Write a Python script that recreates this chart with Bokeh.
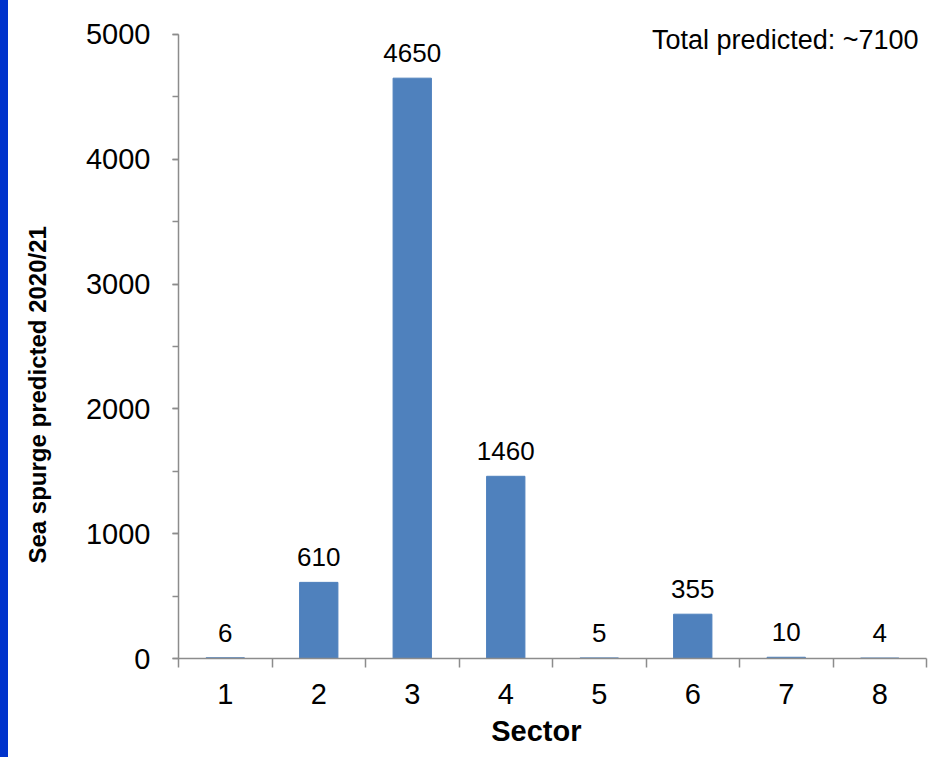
from bokeh.plotting import figure
from bokeh.models import ColumnDataSource, LabelSet, Label, Range1d, FixedTicker, Div
from bokeh.core.properties import value
from bokeh.layouts import row
from bokeh.embed import file_html
from bokeh.resources import INLINE

sectors = [1, 2, 3, 4, 5, 6, 7, 8]
predicted = [6, 610, 4650, 1460, 5, 355, 10, 4]
value_labels = ["6", "610", "4650", "1460", "5", "355", "10", "4"]
y_ticks = [0, 1000, 2000, 3000, 4000, 5000]
total_text = "Total predicted: ~7100"

FONT = "Liberation Sans"
AXIS_COLOR = "#8c8c8c"
NB = "\u00a0"

src = ColumnDataSource(dict(x=sectors, top=predicted, lab=value_labels))

# frame extended 10px above 5000 so the top-right note is not clipped
p = figure(frame_width=748, frame_height=634,
           min_border_left=170, min_border_right=4, min_border_top=24, min_border_bottom=99,
           x_range=Range1d(0.5, 8.5), y_range=Range1d(0, 5080),
           output_backend="svg", toolbar_location=None)

p.vbar(x="x", top="top", width=0.41, source=src, color="#4f81bd")

labels = LabelSet(x="x", y="top", text="lab", source=src, text_align="center",
                  text_baseline="middle", y_offset=25, text_font=value(FONT),
                  text_font_size="26px", text_color="black")
p.add_layout(labels)

p.add_layout(Label(x=8.5, y=5000, text=total_text, text_align="right",
                   text_baseline="middle", x_offset=-8, y_offset=-6,
                   text_font=FONT, text_font_size="27px", text_color="black"))

p.xgrid.visible = False
p.ygrid.visible = False
p.outline_line_color = None
p.background_fill_color = "white"
p.border_fill_color = "white"

xa = p.xaxis[0]
xa.ticker = FixedTicker(ticks=sectors, minor_ticks=[s - 0.5 for s in sectors] + [8.5])
xa.major_tick_line_color = None
xa.major_tick_out = 9
xa.major_tick_in = 0
xa.minor_tick_out = 9
xa.minor_tick_in = 0
xa.minor_tick_line_color = AXIS_COLOR
xa.minor_tick_line_width = 1.5
xa.axis_line_color = AXIS_COLOR
xa.axis_line_width = 1.5
xa.major_label_text_font = FONT
xa.major_label_text_font_size = "29px"
xa.major_label_text_color = "black"
xa.major_label_standoff = 16
xa.axis_label = "Sector" + NB * 4
xa.axis_label_text_font = FONT
xa.axis_label_text_font_style = "bold"
xa.axis_label_text_font_size = "29px"
xa.axis_label_text_color = "black"
xa.axis_label_standoff = 8

ya = p.yaxis[0]
ya.bounds = (0, 5000)
ya.ticker = FixedTicker(ticks=y_ticks, minor_ticks=[500 * i for i in range(11)])
ya.major_tick_out = 6
ya.major_tick_in = 0
ya.minor_tick_out = 6
ya.minor_tick_in = 0
ya.major_tick_line_color = AXIS_COLOR
ya.minor_tick_line_color = AXIS_COLOR
ya.major_tick_line_width = 1.5
ya.minor_tick_line_width = 1.5
ya.axis_line_color = AXIS_COLOR
ya.axis_line_width = 1.5
ya.major_label_text_font = FONT
ya.major_label_text_font_size = "29px"
ya.major_label_text_color = "black"
ya.major_label_standoff = 22
ya.axis_label = "Sea spurge predicted 2020/21" + NB * 16
ya.axis_label_text_font = FONT
ya.axis_label_text_font_style = "bold"
ya.axis_label_text_font_size = "24px"
ya.axis_label_text_color = "black"
ya.axis_label_standoff = 32

bar = Div(width=8, height=757, margin=0, styles={"background-color": "#0033cc"})
layout = row(bar, p, spacing=0)

open("out.html", "w").write(file_html(layout, INLINE))
